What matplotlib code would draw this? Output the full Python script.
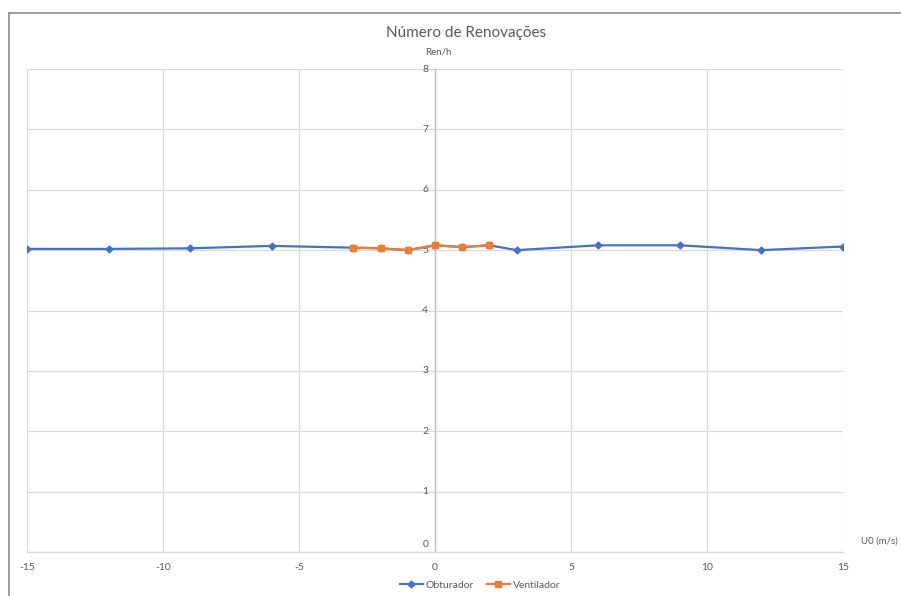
import matplotlib
matplotlib.use("Agg")
import matplotlib.pyplot as plt
from matplotlib.lines import Line2D

plt.rcParams['font.family'] = ['Lato', 'DejaVu Sans']
plt.rcParams['axes.unicode_minus'] = False

# data
u0_obturador = [-15, -12, -9, -6, -3, -2, -1, 0, 1, 2, 3, 6, 9, 12, 15]
ren_obturador = [5.02, 5.02, 5.03, 5.07, 5.04, 5.03, 5.00, 5.08, 5.05, 5.08,
                 5.00, 5.08, 5.08, 5.00, 5.06]
u0_ventilador = [-3, -2, -1, 0, 1, 2]
ren_ventilador = [5.04, 5.03, 5.00, 5.08, 5.05, 5.08]

x_ticks = [-15, -10, -5, 0, 5, 10, 15]
y_ticks = [0, 1, 2, 3, 4, 5, 6, 7, 8]

blue = '#4472C4'
orange = '#ED7D31'
txt = '#595959'
grid_c = '#D9D9D9'

W, H = 901, 596
fig = plt.figure(figsize=(W / 100, H / 100), dpi=100)

# outer chart border (cropped at right/bottom)
fig.add_artist(Line2D([8.5 / W, 8.5 / W], [0, 1 - 12.5 / H], color='#8C8C8C', lw=1.2))
fig.add_artist(Line2D([8.5 / W, 1], [1 - 12.5 / H, 1 - 12.5 / H], color='#8C8C8C', lw=1.2))

ax = fig.add_axes([27 / W, (H - 552) / H, (843 - 27) / W, (552 - 69) / H])
ax.set_xlim(-15, 15)
ax.set_ylim(0, 8)

for s in ['top', 'right', 'left']:
    ax.spines[s].set_visible(False)
ax.spines['bottom'].set_color(grid_c)
ax.spines['bottom'].set_linewidth(1.0)

ax.set_xticks(x_ticks)
ax.set_yticks(y_ticks)
ax.grid(True, color=grid_c, linewidth=0.9)
ax.set_axisbelow(True)
ax.tick_params(axis='both', length=0, labelcolor=txt, labelsize=7.5)
ax.tick_params(axis='x', pad=8)
ax.set_yticklabels([])

# y tick labels placed next to the axis line at x=0
for v in y_ticks:
    yy = v + 0.12 if v == 0 else v
    ax.text(-0.25, yy, str(v), ha='right', va='center', fontsize=7.5, color=txt)

ax.axvline(0, color='#BFBFBF', lw=1.0, zorder=1)

ax.plot(u0_obturador, ren_obturador, color=blue, lw=1.6, marker='D',
        markersize=3.5, label='Obturador', zorder=3)
ax.plot(u0_ventilador, ren_ventilador, color=orange, lw=1.6, marker='s',
        markersize=5, label='Ventilador', zorder=4)

fig.text(466 / W, 1 - 33 / H, 'Número de Renovações', ha='center', va='center',
         fontsize=11, color=txt)
fig.text(438 / W, 1 - 52 / H, 'Ren/h', ha='center', va='center', fontsize=7, color=txt)
fig.text(861 / W, 1 - 541 / H, 'U0 (m/s)', ha='left', va='center', fontsize=7, color=txt)

leg = fig.legend(loc='center', bbox_to_anchor=(480 / W, 1 - 585 / H), ncol=2,
                 frameon=False, fontsize=7.5, handlelength=2.2, columnspacing=1.2,
                 handletextpad=0.3)
for t in leg.get_texts():
    t.set_color(txt)

fig.savefig('out.png', dpi=100, facecolor='white')
